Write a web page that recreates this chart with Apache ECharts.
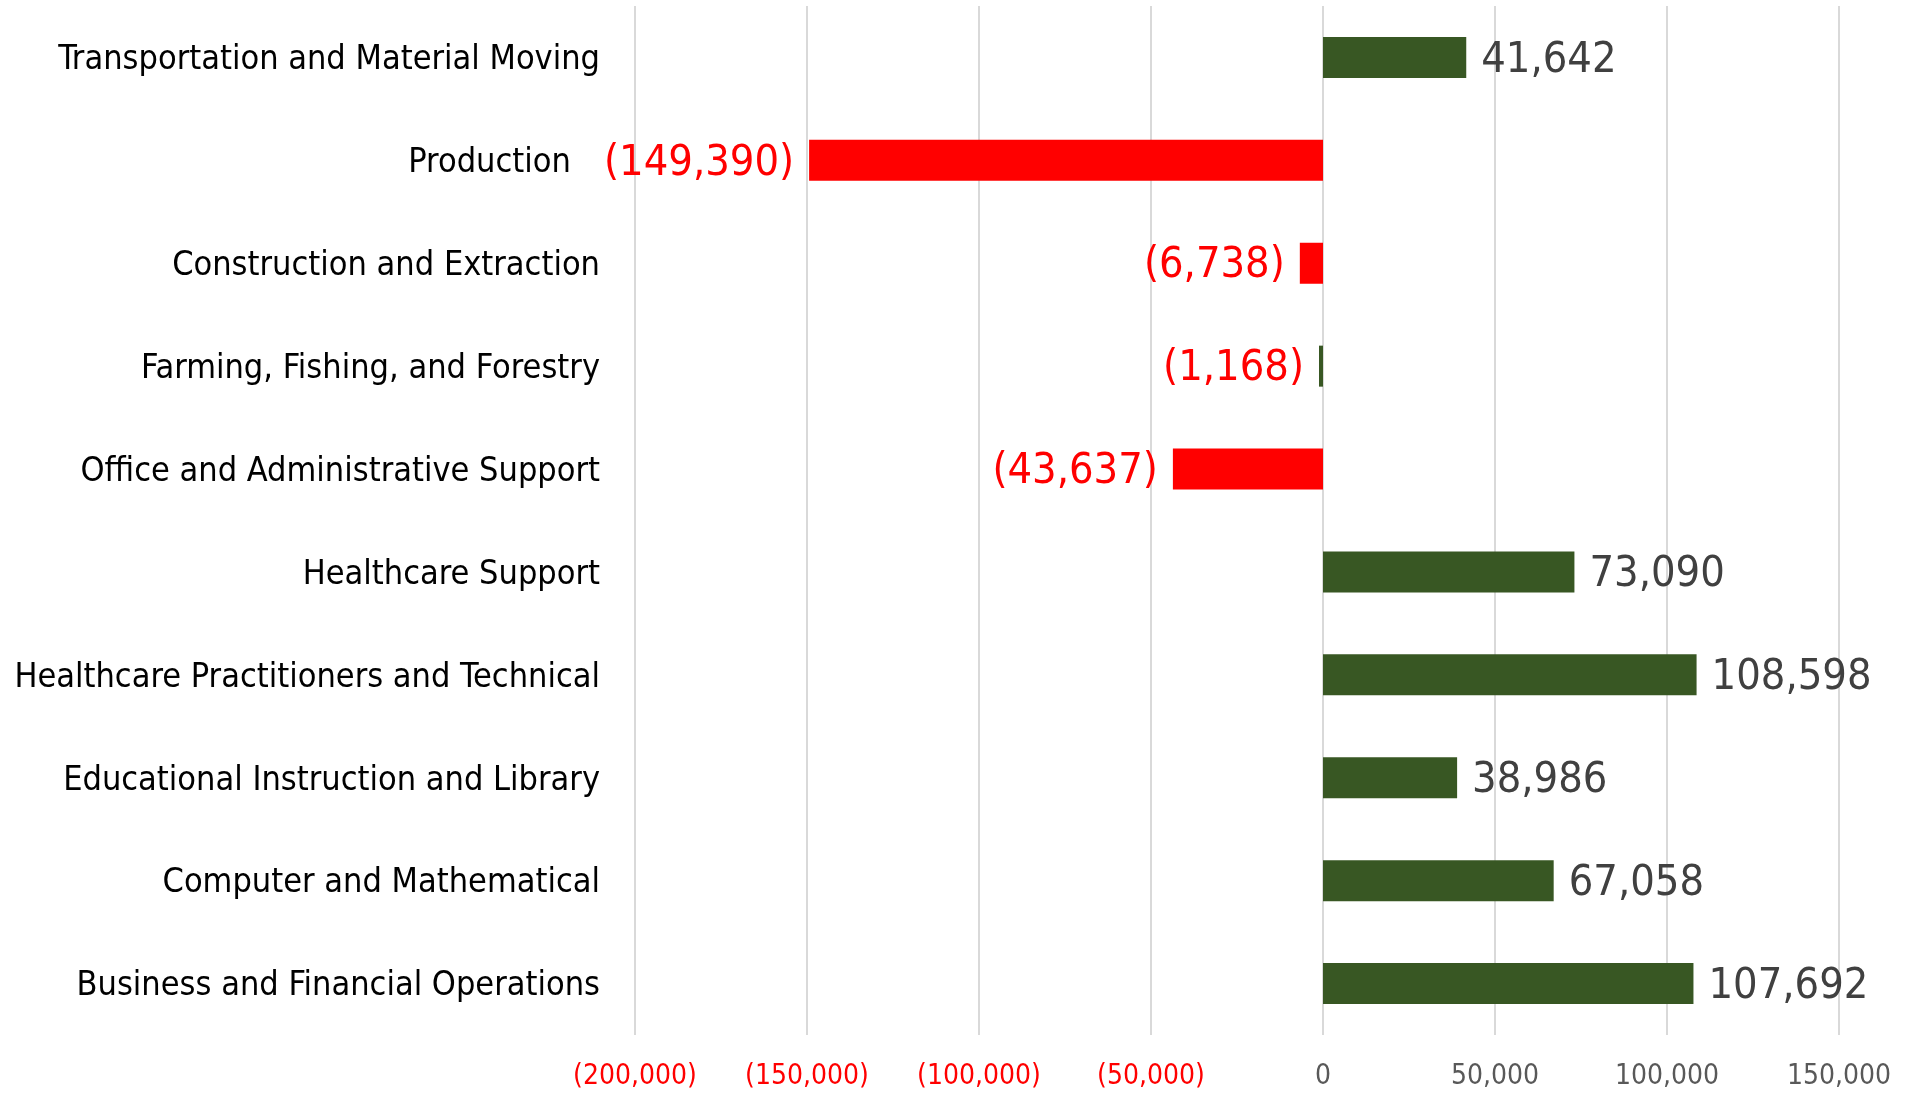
<!DOCTYPE html>
<html>
<head>
<meta charset="utf-8">
<script src="https://cdn.jsdelivr.net/npm/echarts@6/dist/echarts.min.js"></script>
<style>
  html, body { margin: 0; padding: 0; background: #fff; }
  #chart { width: 1905px; height: 1093px; }
</style>
</head>
<body>
<div id="chart"></div>
<script>
// categories top to bottom
var categories = [
  'Transportation and Material Moving',
  'Production   ',
  'Construction and Extraction',
  'Farming, Fishing, and Forestry',
  'Office and Administrative Support',
  'Healthcare Support',
  'Healthcare Practitioners and Technical',
  'Educational Instruction and Library',
  'Computer and Mathematical',
  'Business and Financial Operations'
]
var changes = [41642, -149390, -6738, -1168, -43637, 73090, 108598, 38986, 67058, 107692]
var xTicks = { min: -200000, max: 150000, step: 50000 }

var FONT = '"DejaVu Sans Condensed", "Liberation Sans Narrow", sans-serif'
var GREEN = '#385723'
var RED = '#ff0000'

function fmt(v) {
  var s = Math.abs(v).toLocaleString('en-US')
  return v < 0 ? '(' + s + ')' : s
}

var barData = changes.map(function (v, i) {
  var neg = v < 0
  // the small farming bar keeps the green fill in the original
  var fill = neg && categories[i].indexOf('Farming') !== 0 ? RED : GREEN
  return {
    value: v,
    itemStyle: { color: fill },
    label: {
      position: neg ? 'left' : 'right',
      color: neg ? RED : '#404040'
    }
  }
})

var chart = echarts.init(document.getElementById('chart'))
chart.setOption({
  animation: false,
  grid: { left: 635, right: 66, top: 6, bottom: 58, containLabel: false, outerBoundsMode: 'none' },
  xAxis: {
    type: 'value',
    min: xTicks.min,
    max: xTicks.max,
    interval: xTicks.step,
    axisLine: { show: false },
    axisTick: { show: false },
    splitLine: { lineStyle: { color: '#d9d9d9', width: 2 } },
    axisLabel: {
      margin: 28,
      fontFamily: FONT,
      fontSize: 28,
      formatter: function (v) { return fmt(v) },
      color: function (v) { return Number(v) < 0 ? RED : '#595959' }
    }
  },
  yAxis: {
    type: 'category',
    inverse: true,
    data: categories,
    axisLine: { show: false },
    axisTick: { show: false },
    splitLine: { show: false },
    axisLabel: {
      margin: 35,
      formatter: function (v) { return '{c|' + v + '}' },
      rich: {
        c: {
          fontFamily: FONT,
          fontSize: 34,
          color: '#000',
          padding: [6, 0, 0, 0]
        }
      }
    }
  },
  series: [{
    type: 'bar',
    data: barData,
    barWidth: 41,
    label: {
      show: true,
      distance: 15,
      offset: [0, 3],
      fontFamily: FONT,
      fontSize: 43,
      formatter: function (p) { return fmt(p.value) }
    }
  }]
})
</script>
</body>
</html>
